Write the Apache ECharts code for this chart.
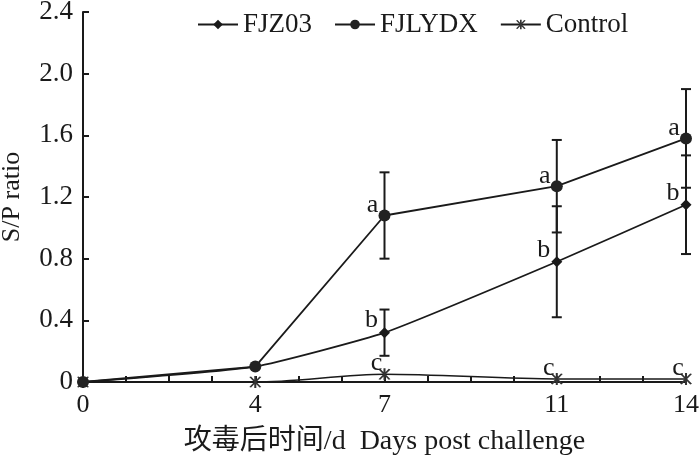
<!DOCTYPE html>
<html>
<head>
<meta charset="utf-8">
<script src="https://cdn.jsdelivr.net/npm/echarts@6/dist/echarts.min.js"></script>
<style>
  html, body { margin: 0; padding: 0; background: #fff; }
  #main { width: 700px; height: 459px; }
</style>
</head>
<body>
<div id="main"></div>
<script>
// days post challenge
const days = [0, 4, 7, 11, 14]
const dayLabels = [0, 4, 7, 11, 14]
const yTicks = [0, 0.4, 0.8, 1.2, 1.6, 2.0, 2.4]

const fjz03 = [0, 0.1, 0.32, 0.78, 1.15]
const fjz03Err = [0, 0, 0.15, 0.36, 0.32]
const fjz03Letters = ['', '', 'b', 'b', 'b']

const fjlydx = [0, 0.1, 1.08, 1.27, 1.58]
const fjlydxErr = [0, 0, 0.28, 0.30, 0.32]
const fjlydxLetters = ['', '', 'a', 'a', 'a']

const control = [0, 0, 0.05, 0.02, 0.02]
const controlLetters = ['', '', 'c', 'c', 'c']

const serif = "'Liberation Serif', 'Noto Sans CJK SC', serif"
const ink = '#1a1a1a'
const asterisk = 'path://M9 0L11 0L11 20L9 20Z M5.87 0.84L15.87 18.16L14.13 19.16L4.13 1.84Z M14.13 0.84L15.87 1.84L5.87 19.16L4.13 18.16Z'

function lineData(vals, letters) {
    return days.map((d, i) => ({
        value: [d, vals[i]],
        label: { show: letters[i] !== '', formatter: letters[i] },
    }))
}

function errData(vals, errs) {
    return days
        .map((d, i) => [d, vals[i] - errs[i], vals[i] + errs[i]])
        .filter((r, i) => errs[i] > 0)
}

function renderErr(params, api) {
    const x = api.value(0)
    const top = api.coord([x, api.value(2)])
    const bot = api.coord([x, api.value(1)])
    const half = 5
    const style = { stroke: ink, lineWidth: 2 }
    return {
        type: 'group',
        children: [
            { type: 'line', shape: { x1: top[0], y1: top[1], x2: bot[0], y2: bot[1] }, style },
            { type: 'line', shape: { x1: top[0] - half, y1: top[1], x2: top[0] + half, y2: top[1] }, style },
            { type: 'line', shape: { x1: bot[0] - half, y1: bot[1], x2: bot[0] + half, y2: bot[1] }, style },
        ],
    }
}

const letterStyle = { position: 'inside', color: ink, fontFamily: serif, fontSize: 26 }

const chart = echarts.init(document.getElementById('main'))
const option = {
    backgroundColor: '#fff',
    animation: false,
    grid: { left: 83, right: 14, top: 12, bottom: 77, containLabel: false, outerBoundsMode: 'none' },
    legend: {
        left: 192,
        top: 6,
        itemWidth: 40,
        itemHeight: 12,
        itemGap: 22,
        textStyle: { color: ink, fontFamily: serif, fontSize: 27 },
        data: ['FJZ03', 'FJLYDX', 'Control'],
    },
    xAxis: {
        type: 'value',
        min: 0,
        max: 14,
        interval: 1,
        name: '攻毒后时间/d  Days post challenge',
        nameLocation: 'middle',
        nameGap: 46,
        nameTextStyle: { color: ink, fontFamily: serif, fontSize: 28 },
        axisLine: { lineStyle: { color: ink, width: 2 } },
        axisTick: { inside: true, length: 6, lineStyle: { color: ink, width: 2 } },
        axisLabel: {
            color: ink,
            fontFamily: serif,
            fontSize: 26,
            margin: 10,
            formatter: v => (dayLabels.indexOf(v) >= 0 ? String(v) : ''),
        },
        splitLine: { show: false },
    },
    yAxis: {
        type: 'value',
        min: 0,
        max: 2.4,
        interval: 0.4,
        name: 'S/P ratio',
        nameLocation: 'middle',
        nameGap: 58,
        nameTextStyle: { color: ink, fontFamily: serif, fontSize: 26 },
        axisLine: { show: true, lineStyle: { color: ink, width: 2 } },
        axisTick: { show: true, inside: true, length: 6, lineStyle: { color: ink, width: 2 } },
        axisLabel: {
            color: ink,
            fontFamily: serif,
            fontSize: 27,
            margin: 10,
            formatter: v => {
                const t = yTicks.find(k => Math.abs(k - v) < 1e-6)
                return t === 0 ? '0' : t.toFixed(1)
            },
        },
        splitLine: { show: false },
    },
    series: [
        {
            name: 'FJZ03',
            type: 'line',
            smooth: 0.15,
            symbol: 'diamond',
            symbolSize: 11,
            z: 3,
            lineStyle: { color: ink, width: 1.8 },
            itemStyle: { color: ink },
            label: Object.assign({ offset: [-13, -12] }, letterStyle),
            data: lineData(fjz03, fjz03Letters),
        },
        {
            name: 'FJLYDX',
            type: 'line',
            symbol: 'circle',
            symbolSize: 12,
            z: 4,
            lineStyle: { color: ink, width: 1.8 },
            itemStyle: { color: '#222' },
            label: Object.assign({ offset: [-12, -10] }, letterStyle),
            data: lineData(fjlydx, fjlydxLetters),
        },
        {
            name: 'Control',
            type: 'line',
            smooth: 0.3,
            symbol: asterisk,
            symbolSize: 12,
            z: 3,
            lineStyle: { color: ink, width: 1.5 },
            itemStyle: { color: '#333' },
            label: Object.assign({ offset: [-8, -11] }, letterStyle),
            data: lineData(control, controlLetters),
        },
        {
            type: 'custom',
            renderItem: renderErr,
            encode: { x: 0, y: [1, 2] },
            z: 2,
            silent: true,
            data: errData(fjz03, fjz03Err),
        },
        {
            type: 'custom',
            renderItem: renderErr,
            encode: { x: 0, y: [1, 2] },
            z: 2,
            silent: true,
            data: errData(fjlydx, fjlydxErr),
        },
    ],
}
chart.setOption(option)
</script>
</body>
</html>
